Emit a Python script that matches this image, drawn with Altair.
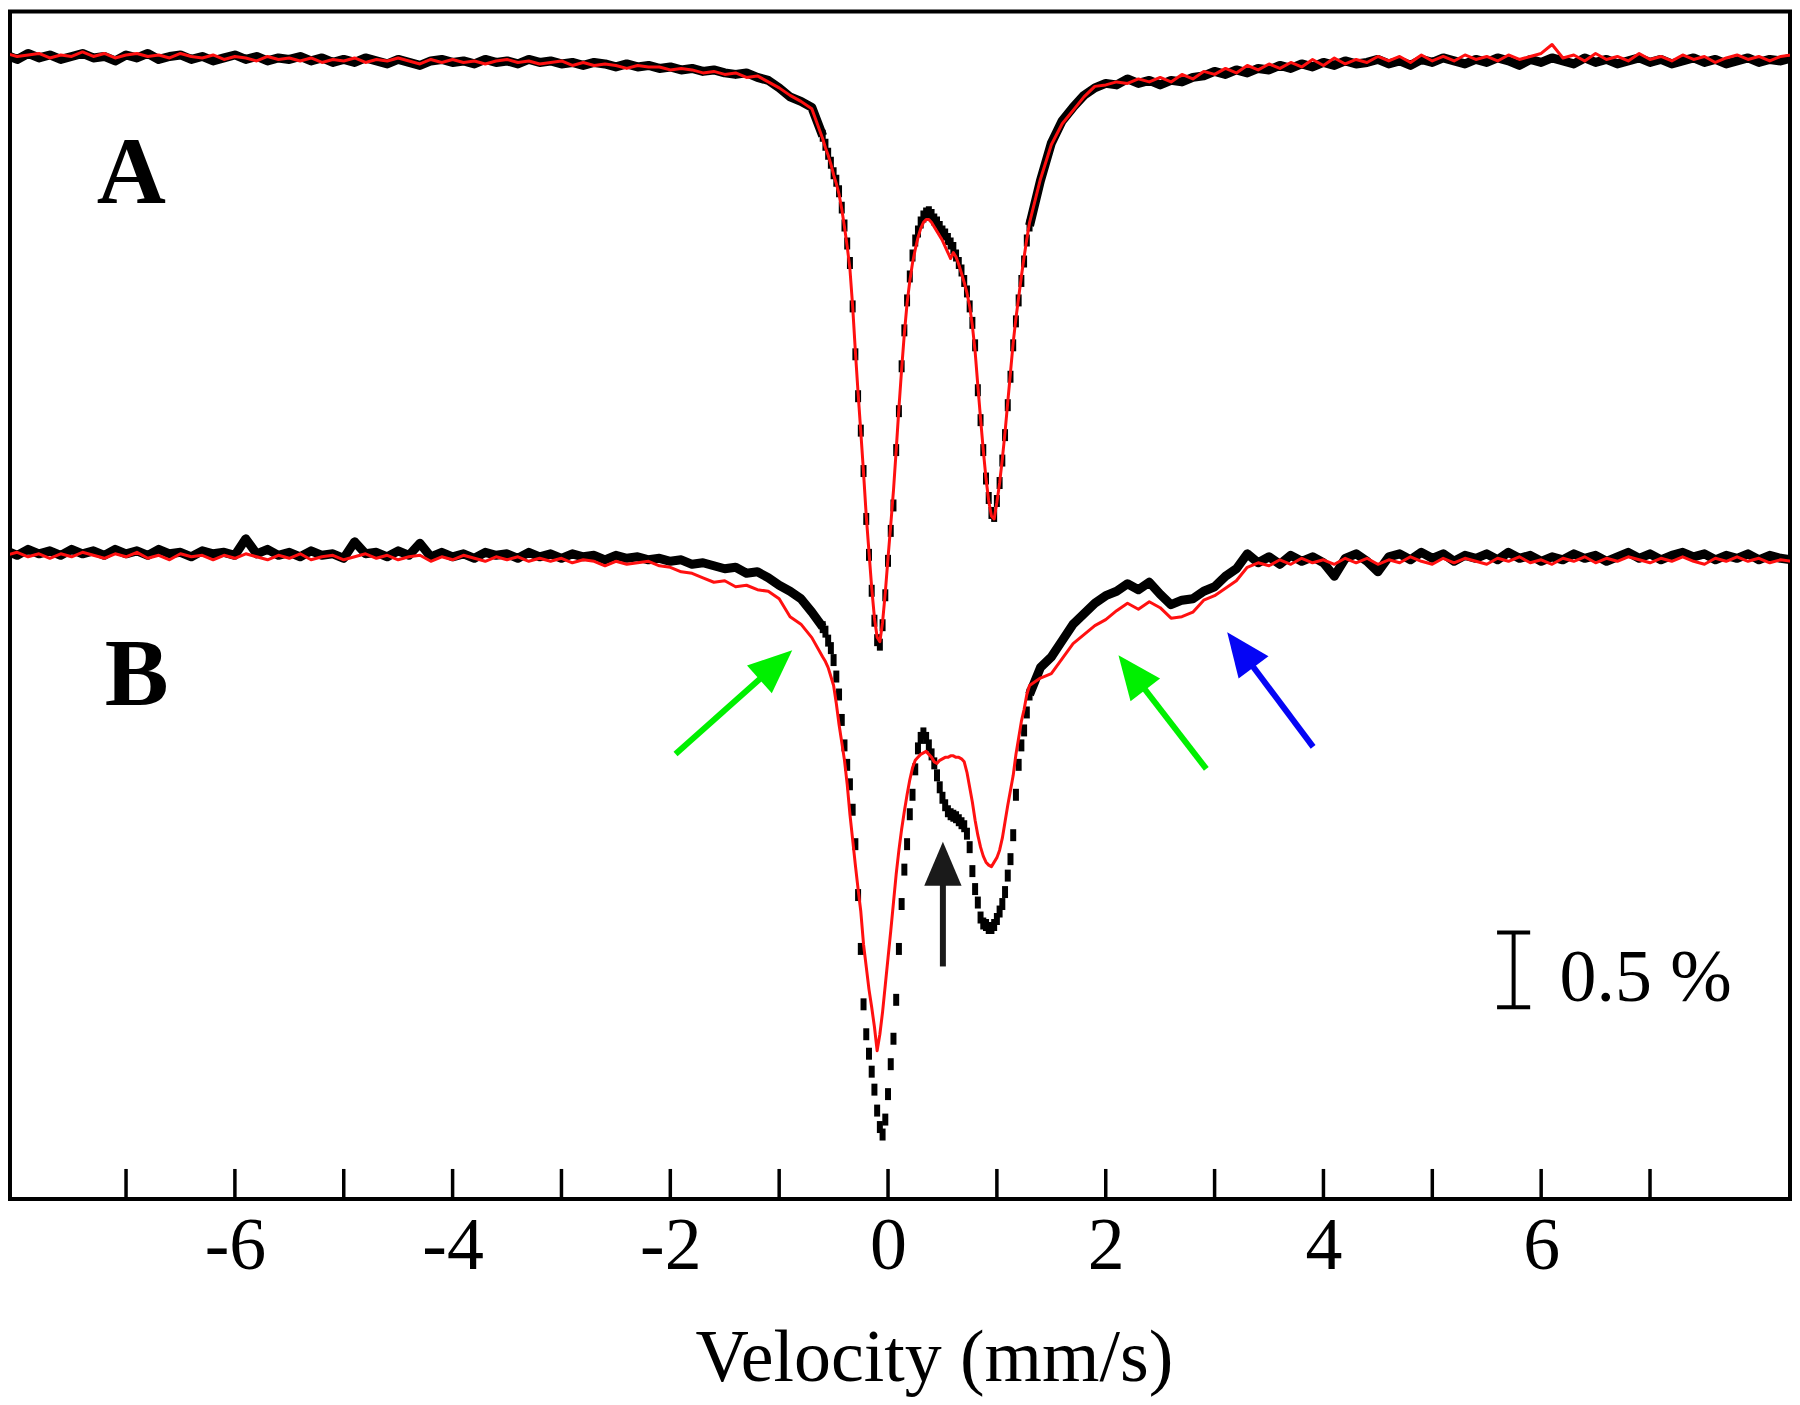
import math
import altair as alt
import pandas as pd

# ---------------- velocity channels (mm/s) ----------------
vel_left = [round(-8.1 + 0.1 * i, 3) for i in range(75)]     # -8.1 .. -0.7
vel_dip = [round(-0.6 + 0.025 * i, 3) for i in range(77)]    # -0.6 .. 1.3
vel_right = [round(1.4 + 0.1 * i, 3) for i in range(70)]     # 1.4 .. 8.3

# ---------------- spectrum A (relative transmission, %) ----------------
A_data_left = [0.03, 0.00, 0.04, 0.01, 0.03, 0.00, 0.02, 0.04, 0.01, 0.02,
               -0.01, 0.03, 0.01, 0.04, 0.00, 0.02, 0.03, 0.00, 0.02, -0.01,
               0.01, 0.03, 0.00, 0.02, -0.01, 0.01, 0.00, 0.02, -0.01, 0.01,
               -0.02, 0.00, -0.02, 0.01, -0.01, -0.03, 0.00, -0.02, -0.04, -0.01,
               0.00, -0.02, -0.01, -0.03, 0.00, -0.02, -0.01, -0.03, 0.00, -0.02,
               -0.01, -0.03, -0.02, -0.04, -0.02, -0.03, -0.05, -0.03, -0.05, -0.04,
               -0.06, -0.05, -0.07, -0.06, -0.08, -0.07, -0.09, -0.10, -0.09, -0.12,
               -0.14, -0.19, -0.25, -0.28, -0.32]
A_fit_left = [0.04, 0.02, 0.03, 0.04, 0.01, 0.03, 0.02, 0.05, 0.02, 0.04,
              0.01, 0.03, 0.04, 0.02, 0.03, 0.01, 0.04, 0.02, 0.01, 0.03,
              0.00, 0.02, 0.01, -0.01, 0.02, 0.00, 0.01, -0.01, 0.01, -0.02,
              0.00, -0.01, 0.01, -0.02, 0.00, -0.01, 0.01, -0.01, -0.03, 0.00,
              -0.02, 0.00, -0.02, -0.01, -0.03, -0.01, 0.00, -0.02, -0.01, -0.03,
              -0.02, -0.01, -0.04, -0.02, -0.04, -0.03, -0.04, -0.06, -0.04, -0.05,
              -0.05, -0.07, -0.06, -0.07, -0.09, -0.08, -0.10, -0.09, -0.12, -0.11,
              -0.15, -0.19, -0.24, -0.28, -0.33]
A_data_dip = [-0.51, -0.57, -0.63, -0.69, -0.76, -0.81, -0.88, -0.99, -1.11, -1.23,
              -1.36, -1.65, -1.97, -2.25, -2.48, -2.75, -3.07, -3.31, -3.55, -3.75,
              -3.88, -3.91, -3.78, -3.58, -3.35, -3.15, -2.98, -2.61, -2.35, -2.05,
              -1.81, -1.61, -1.45, -1.31, -1.21, -1.15, -1.09, -1.05, -1.03, -1.02,
              -1.04, -1.07, -1.09, -1.12, -1.15, -1.17, -1.20, -1.23, -1.26, -1.31,
              -1.36, -1.41, -1.48, -1.55, -1.65, -1.76, -1.91, -2.21, -2.41, -2.61,
              -2.80, -2.93, -3.03, -3.05, -2.95, -2.83, -2.68, -2.51, -2.31, -2.12,
              -1.91, -1.75, -1.61, -1.48, -1.35, -1.21, -1.11]
A_fit_dip = [-0.53, -0.59, -0.64, -0.70, -0.77, -0.83, -0.90, -1.00, -1.12, -1.25,
             -1.40, -1.65, -1.95, -2.23, -2.49, -2.76, -3.05, -3.29, -3.53, -3.73,
             -3.86, -3.89, -3.76, -3.56, -3.33, -3.11, -2.88, -2.61, -2.33, -2.07,
             -1.83, -1.63, -1.48, -1.36, -1.27, -1.19, -1.13, -1.09, -1.07, -1.07,
             -1.09, -1.12, -1.15, -1.18, -1.21, -1.25, -1.29, -1.33, -1.29, -1.32,
             -1.37, -1.43, -1.49, -1.56, -1.65, -1.78, -1.95, -2.18, -2.40, -2.61,
             -2.80, -2.95, -3.05, -3.07, -2.96, -2.83, -2.67, -2.49, -2.29, -2.09,
             -1.89, -1.73, -1.59, -1.45, -1.32, -1.20, -1.09]
A_data_right = [-0.81, -0.56, -0.41, -0.32, -0.24, -0.19, -0.16, -0.17, -0.13, -0.16,
                -0.14, -0.17, -0.14, -0.15, -0.12, -0.11, -0.08, -0.10, -0.07, -0.09,
                -0.06, -0.07, -0.04, -0.06, -0.03, -0.05, -0.02, -0.04, -0.01, -0.03,
                -0.02, 0.00, -0.03, -0.01, -0.04, 0.00, -0.02, 0.01, -0.01, -0.03,
                0.00, -0.02, 0.01, -0.01, -0.04, 0.00, -0.02, 0.01, -0.01, -0.03,
                0.01, -0.02, 0.00, -0.03, -0.01, 0.01, -0.02, 0.00, -0.03, -0.01,
                0.01, -0.02, 0.00, -0.03, -0.01, 0.01, -0.02, 0.00, -0.01, 0.01]
A_fit_right = [-0.80, -0.57, -0.43, -0.34, -0.25, -0.18, -0.17, -0.15, -0.16, -0.13,
               -0.15, -0.12, -0.15, -0.10, -0.13, -0.08, -0.10, -0.06, -0.09, -0.04,
               -0.07, -0.03, -0.06, -0.02, -0.05, 0.00, -0.04, 0.01, -0.03, 0.00,
               -0.02, 0.02, -0.01, 0.02, -0.02, 0.03, -0.01, 0.02, -0.01, 0.03,
               0.00, 0.02, -0.01, 0.03, 0.00, 0.02, 0.04, 0.10, 0.01, 0.03,
               -0.01, 0.04, 0.00, 0.02, -0.01, 0.04, 0.00, 0.02, -0.01, 0.03,
               0.00, 0.02, -0.02, 0.01, 0.03, 0.00, 0.02, -0.01, 0.02, 0.03]

# ---------------- spectrum B (relative transmission, %) ----------------
B_data_left = [0.05, 0.02, 0.06, 0.03, 0.05, 0.02, 0.06, 0.03, 0.05, 0.02,
               0.06, 0.03, 0.05, 0.02, 0.06, 0.03, 0.04, 0.01, 0.05, 0.03,
               0.04, 0.02, 0.13, 0.03, 0.06, 0.02, 0.04, 0.01, 0.05, 0.02,
               0.03, 0.00, 0.11, 0.03, 0.04, 0.01, 0.05, 0.02, 0.10, 0.01,
               0.04, 0.01, 0.03, 0.00, 0.04, 0.02, 0.03, 0.00, 0.04, 0.01,
               0.03, 0.00, 0.03, 0.01, 0.02, -0.01, 0.02, 0.00, 0.01, -0.01,
               0.00, -0.02, -0.01, -0.04, -0.03, -0.05, -0.07, -0.06, -0.10, -0.09,
               -0.13, -0.18, -0.22, -0.27, -0.36]
B_fit_left = [0.02, 0.04, 0.01, 0.03, 0.00, 0.03, 0.01, 0.04, 0.02, 0.00,
              0.03, 0.01, 0.04, 0.00, 0.02, -0.01, 0.03, 0.01, 0.02, -0.01,
              0.02, 0.00, 0.03, 0.01, -0.01, 0.02, 0.00, 0.03, -0.01, 0.01,
              0.02, -0.01, 0.01, 0.03, 0.00, 0.02, -0.01, 0.01, 0.02, -0.02,
              0.01, -0.01, 0.02, 0.00, -0.02, 0.01, -0.01, 0.01, -0.02, 0.00,
              -0.02, 0.00, -0.03, -0.01, -0.02, -0.05, -0.02, -0.04, -0.03, -0.02,
              -0.05, -0.06, -0.09, -0.10, -0.13, -0.16, -0.15, -0.19, -0.18, -0.21,
              -0.22, -0.27, -0.39, -0.44, -0.53]
B_data_dip = [-0.46, -0.49, -0.55, -0.60, -0.68, -0.79, -0.91, -1.08, -1.25, -1.38,
              -1.51, -1.68, -1.91, -2.25, -2.61, -2.98, -3.18, -3.31, -3.43, -3.55,
              -3.69, -3.80, -3.85, -3.75, -3.58, -3.38, -3.21, -2.95, -2.61, -2.31,
              -2.08, -1.91, -1.71, -1.58, -1.41, -1.27, -1.20, -1.17, -1.20, -1.25,
              -1.31, -1.37, -1.45, -1.53, -1.60, -1.65, -1.69, -1.71, -1.72, -1.73,
              -1.75, -1.77, -1.79, -1.84, -1.93, -2.09, -2.21, -2.30, -2.40, -2.44,
              -2.45, -2.47, -2.47, -2.45, -2.41, -2.36, -2.31, -2.23, -2.12, -2.01,
              -1.85, -1.58, -1.38, -1.25, -1.15, -1.03, -0.91]
B_fit_dip = [-0.66, -0.69, -0.73, -0.79, -0.85, -0.97, -1.11, -1.23, -1.35, -1.51,
             -1.71, -1.88, -2.05, -2.21, -2.36, -2.58, -2.73, -2.88, -3.00, -3.13,
             -3.29, -3.18, -3.03, -2.85, -2.67, -2.49, -2.30, -2.11, -1.95, -1.81,
             -1.69, -1.58, -1.48, -1.40, -1.35, -1.33, -1.31, -1.30, -1.29, -1.31,
             -1.33, -1.36, -1.37, -1.35, -1.34, -1.33, -1.33, -1.32, -1.32, -1.33,
             -1.33, -1.34, -1.36, -1.43, -1.53, -1.63, -1.75, -1.85, -1.93, -1.99,
             -2.03, -2.05, -2.06, -2.03, -2.00, -1.95, -1.87, -1.76, -1.65, -1.55,
             -1.45, -1.31, -1.20, -1.09, -1.01, -0.91, -0.85]
B_data_right = [-0.73, -0.66, -0.55, -0.44, -0.37, -0.30, -0.25, -0.22, -0.17, -0.21,
                -0.16, -0.24, -0.31, -0.28, -0.27, -0.22, -0.19, -0.12, -0.07, 0.03,
                -0.03, 0.01, -0.04, 0.02, -0.02, 0.01, -0.03, -0.12, 0.00, 0.03,
                -0.02, -0.09, 0.01, 0.03, -0.01, 0.04, 0.00, 0.03, -0.02, 0.02,
                0.00, 0.03, -0.01, 0.04, 0.00, 0.02, -0.02, 0.01, -0.01, 0.03,
                0.00, 0.02, -0.02, 0.01, 0.04, 0.00, 0.03, -0.01, 0.02, 0.04,
                0.01, 0.03, -0.01, 0.02, 0.00, 0.03, -0.01, 0.02, 0.00, -0.01]
B_fit_right = [-0.80, -0.77, -0.67, -0.57, -0.51, -0.45, -0.41, -0.35, -0.30, -0.34,
               -0.29, -0.33, -0.40, -0.39, -0.36, -0.28, -0.25, -0.20, -0.15, -0.06,
               -0.03, -0.05, -0.01, -0.04, 0.00, -0.03, -0.01, -0.04, 0.00, -0.03,
               0.00, -0.04, -0.01, -0.03, 0.01, -0.02, -0.04, 0.00, -0.03, 0.00,
               -0.02, -0.04, 0.00, -0.02, 0.01, -0.03, -0.01, -0.04, 0.00, -0.02,
               0.01, -0.03, 0.00, -0.02, 0.01, -0.01, -0.03, 0.00, -0.02, 0.01,
               -0.02, -0.04, 0.00, -0.02, 0.01, -0.02, 0.00, -0.03, -0.01, -0.02]

B_OFFSET = -3.333          # vertical stacking offset of spectrum B (%)

tick_values = list(range(-7, 8))
tick_labels = [-6, -4, -2, 0, 2, 4, 6]

for arr, n in [(A_data_left, 75), (A_fit_left, 75), (B_data_left, 75), (B_fit_left, 75),
               (A_data_dip, 77), (A_fit_dip, 77), (B_data_dip, 77), (B_fit_dip, 77),
               (A_data_right, 70), (A_fit_right, 70), (B_data_right, 70), (B_fit_right, 70)]:
    assert len(arr) == n, (len(arr), n)

# ---------------- geometry ----------------
X_MIN, X_MAX = -8.066, 8.286
Y_MIN, Y_MAX = -7.613, 0.32
W, H = 1784, 1190
PX_X = W / (X_MAX - X_MIN)
PX_Y = H / (Y_MAX - Y_MIN)

SERIF = "Liberation Serif"

# ---------------- tables ----------------
line_rows, point_rows, fit_rows = [], [], []
for name, off, dl, dd, dr, fl, fd, fr in [
        ("A", 0.0, A_data_left, A_data_dip, A_data_right, A_fit_left, A_fit_dip, A_fit_right),
        ("B", B_OFFSET, B_data_left, B_data_dip, B_data_right, B_fit_left, B_fit_dip, B_fit_right)]:
    for v, y in zip(vel_left + [vel_dip[0]], dl + [dd[0]]):
        line_rows.append({"v": v, "y": y + off, "part": name + "L"})
    for v, y in zip([vel_dip[-1]] + vel_right, [dd[-1]] + dr):
        line_rows.append({"v": v, "y": y + off, "part": name + "R"})
    for v, y in zip(vel_dip, dd):
        point_rows.append({"v": v, "y": y + off, "part": name})
    for v, y in zip(vel_left + vel_dip + vel_right, fl + fd + fr):
        fit_rows.append({"v": v, "y": y + off, "series": name})

df_lines = pd.DataFrame(line_rows)
df_points = pd.DataFrame(point_rows)
df_fit = pd.DataFrame(fit_rows)

xscale = alt.Scale(domain=[X_MIN, X_MAX], nice=False, zero=False)
yscale = alt.Scale(domain=[Y_MIN, Y_MAX], nice=False, zero=False)
xaxis = alt.Axis(values=tick_labels, ticks=False, domain=False, grid=False,
                 labelFont=SERIF, labelFontSize=74, labelColor="black", labelPadding=12,
                 labelExpr="'' + datum.value", labelFlush=False, labelOverlap=False,
                 title="Velocity (mm/s)", titleFont=SERIF, titleFontSize=74,
                 titleFontWeight="normal", titleColor="black", titleX=926, titleY=182,
                 titleBaseline="alphabetic", titleAlign="center")
X = alt.X("v:Q", scale=xscale, axis=xaxis)
Y = alt.Y("y:Q", scale=yscale, axis=None)

# inward x ticks
df_ticks = pd.DataFrame({"v": tick_values, "y": [Y_MIN] * len(tick_values),
                         "y2": [Y_MIN + 30 / PX_Y] * len(tick_values)})
ticks = alt.Chart(df_ticks).mark_rule(color="black", strokeWidth=3.5).encode(
    x=X, y=Y, y2="y2:Q")

data_lines = alt.Chart(df_lines).mark_line(
    color="black", strokeWidth=9, clip=True, strokeJoin="round").encode(
    x=X, y=Y, detail="part:N", order="v:Q")

RECT = "M-0.5,-1L0.5,-1L0.5,1L-0.5,1Z"
data_points = alt.Chart(df_points).mark_point(
    shape=RECT, filled=True, size=144, color="black", opacity=1, strokeWidth=0,
    clip=True).encode(x=X, y=Y)

fit_lines = alt.Chart(df_fit).mark_line(
    color="#ff1010", strokeWidth=3, clip=True, strokeJoin="round").encode(
    x=X, y=Y, detail="series:N", order="v:Q")

# panel letters
df_letters = pd.DataFrame({"v": [-7.268, -7.195], "y": [-0.96, -4.313], "t": ["A", "B"]})
letters = alt.Chart(df_letters).mark_text(
    font=SERIF, fontSize=96, fontWeight="bold", align="left", baseline="alphabetic",
    color="black").encode(x=X, y=Y, text="t:N")

# 0.5 % scale bar
bar_v, bar_half = 5.747, 0.152
bar_top, bar_bot = -5.833, -6.333
df_bar = pd.DataFrame({
    "v": [bar_v, bar_v - bar_half, bar_v - bar_half],
    "v2": [bar_v, bar_v + bar_half, bar_v + bar_half],
    "y": [bar_top, bar_top, bar_bot],
    "y2": [bar_bot, bar_top, bar_bot]})
bar = alt.Chart(df_bar).mark_rule(color="black", strokeWidth=4).encode(
    x=X, y=Y, x2="v2:Q", y2="y2:Q")
df_bar_text = pd.DataFrame({"v": [6.169], "y": [-6.293], "t": ["0.5 %"]})
bar_text = alt.Chart(df_bar_text).mark_text(
    font=SERIF, fontSize=74, align="left", baseline="alphabetic", color="black").encode(
    x=X, y=Y, text="t:N")

# arrows: (tail v, tail y), (tip v, tip y), colour
arrows = [((-1.952, -4.64), (-0.880, -3.947), "#00f000"),
          ((2.924, -4.74), (2.117, -3.98), "#00f000"),
          ((3.905, -4.593), (3.116, -3.827), "#0505f5"),
          ((0.504, -6.06), (0.504, -5.227), "#1a1a1a")]
HEAD = 44
shaft_rows, head_rows = [], []
for (tv, ty), (hv, hy), col in arrows:
    x0, y0 = tv * PX_X, -ty * PX_Y
    x1, y1 = hv * PX_X, -hy * PX_Y
    dx, dy = x1 - x0, y1 - y0
    L = math.hypot(dx, dy)
    ux, uy = dx / L, dy / L
    ang = math.degrees(math.atan2(ux, -uy)) % 360
    cx, cy = x1 - ux * HEAD / 2, y1 - uy * HEAD / 2
    cv, cyv = cx / PX_X, -cy / PX_Y
    shaft_rows.append({"v": tv, "y": ty, "v2": cv, "y2": cyv, "c": col})
    head_rows.append({"v": cv, "y": cyv, "a": ang, "c": col, "s": HEAD * HEAD})
shafts = alt.Chart(pd.DataFrame(shaft_rows)).mark_rule(strokeWidth=6).encode(
    x=X, y=Y, x2="v2:Q", y2="y2:Q", color=alt.Color("c:N", scale=None))
HEAD_SHAPE = "M0,-1L0.85,1L-0.85,1Z"
heads = alt.Chart(pd.DataFrame(head_rows)).mark_point(
    shape=HEAD_SHAPE, filled=True, opacity=1, strokeWidth=0).encode(
    x=X, y=Y, angle=alt.Angle("a:Q", scale=None), size=alt.Size("s:Q", scale=None),
    color=alt.Color("c:N", scale=None))

chart = alt.layer(ticks, data_lines, data_points, fit_lines, letters, bar, bar_text,
                  shafts, heads).properties(
    width=W, height=H,
    autosize=alt.AutoSizeParams(type="none"),
    padding={"left": 2, "top": 2, "right": 2, "bottom": 203},
    background="white",
).configure_view(stroke="black", strokeWidth=4)

chart.save("out.html", embed_options={"renderer": "svg", "actions": False})
